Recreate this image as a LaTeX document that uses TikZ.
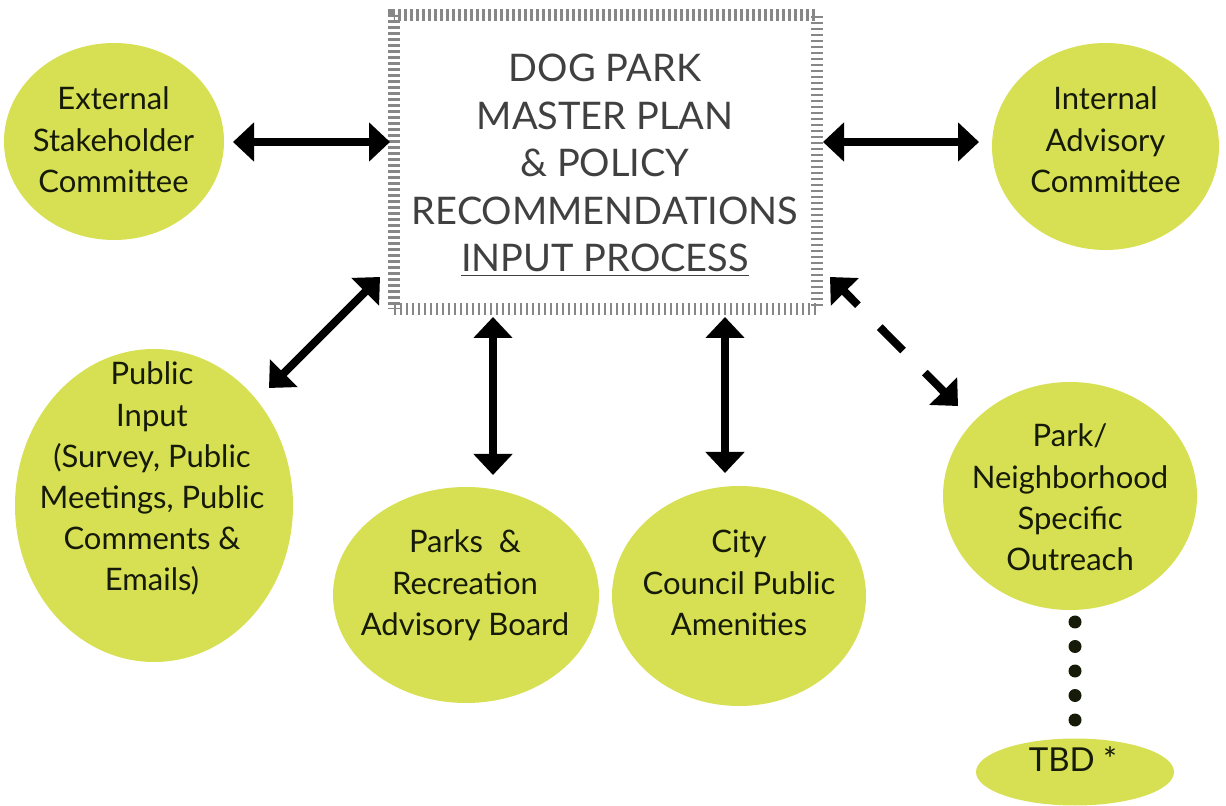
\documentclass[tikz,border=0pt]{standalone}
\usepackage{fontspec}
\setmainfont{Lato}
\usetikzlibrary{arrows.meta,calc,shapes.geometric}
\definecolor{leaf}{RGB}{214,224,82}
\definecolor{ink}{RGB}{22,26,8}
\definecolor{boxtext}{RGB}{64,64,64}
\definecolor{hatch}{RGB}{135,135,135}
\tikzset{
  ell/.style={ellipse, fill=leaf, draw=none, inner sep=0pt, outer sep=0pt},
  lbl/.style={anchor=base, inner sep=0pt, text=ink, font=\fontsize{15.5}{20.6}\selectfont},
  boxlbl/.style={anchor=base, inner sep=0pt, text=boxtext, font=\fontsize{19}{23.75}\selectfont},
  hatchbox/.style={rectangle, draw=hatch, line width=6pt, dash pattern=on 1.3pt off 1.7pt, outer sep=0pt, inner sep=0pt},
  link/.style={line width=4pt, black, {Triangle[length=10.5pt,width=19pt]}-{Triangle[length=10.5pt,width=19pt]}},
  dashlink/.style={link, dash pattern=on 16.5pt off 15.5pt, dash phase=6.5pt},
  dotline/.style={line width=6.5pt, line cap=round, dash pattern=on 0pt off 12.25pt, color=ink}
}
\begin{document}
\begin{tikzpicture}[x=0.5pt,y=-0.5pt]
\useasboundingbox (0,0) rectangle (1226,806);
% central box
\node[hatchbox, minimum width=211.75pt, minimum height=147pt] (box) at (605.25,162) {};
\node[boxlbl] (boxt) at (605,82) {\begin{tabular}[t]{@{}c@{}}DOG PARK\\MASTER PLAN\\\& POLICY\\RECOMMENDATIONS\\\underline{INPUT PROCESS}\end{tabular}};
% ellipses
\node[ell, minimum width=110pt, minimum height=98.5pt] (ext) at (114,141.5) {};
\node[ell, minimum width=113.5pt, minimum height=103.5pt] (int) at (1105.5,146.5) {};
\node[ell, minimum width=139pt, minimum height=156.5pt] (pub) at (154,505.5) {};
\node[ell, minimum width=133pt, minimum height=108pt] (parks) at (466,595) {};
\node[ell, minimum width=127pt, minimum height=110pt] (city) at (739,596) {};
\node[ell, minimum width=127pt, minimum height=114pt] (park) at (1070,496) {};
\node[ell, minimum width=99pt, minimum height=33.5pt] (tbd) at (1075,772) {};
% labels
\node[lbl] (extt) at (113.5,110) {\begin{tabular}[t]{@{}c@{}}External\\Stakeholder\\Committee\end{tabular}};
\node[lbl] (intt) at (1105.5,110) {\begin{tabular}[t]{@{}c@{}}Internal\\Advisory\\Committee\end{tabular}};
\node[lbl] (pubt) at (152,385) {\begin{tabular}[t]{@{}c@{}}Public\\Input\\(Survey, Public\\Meetings, Public\\Comments \&\\Emails)\end{tabular}};
\node[lbl] (parkst) at (465,553) {\begin{tabular}[t]{@{}c@{}}Parks\ \ \&\\Recreation\\Advisory Board\end{tabular}};
\node[lbl] (cityt) at (739,553) {\begin{tabular}[t]{@{}c@{}}City\\Council Public\\Amenities\end{tabular}};
\node[lbl] (parkt) at (1070,447) {\begin{tabular}[t]{@{}c@{}}Park/\\Neighborhood\\Specific\\Outreach\end{tabular}};
\node[lbl, font=\fontsize{16.5}{20.6}\selectfont] (tbdt) at (1073,771) {TBD *};
% connectors
\draw[link] ($(ext.east)+(9,0.5)$) -- ($(box.west)+(-3.5,-20)$);
\draw[link] ($(box.east)+(6,-20)$) -- ($(int.west)+(-13,-4.5)$);
\draw[link] ($(box.south west)+(-13.5,-32)$) -- ($(pub.center)+(115,-117.5)$);
\draw[link] ($(box.south west)+(99.5,8)$) -- ($(parks.north)+(27,-12)$);
\draw[link] ($(box.south west)+(331.5,8)$) -- ($(city.north)+(-14,-13)$);
\draw[dashlink] ($(box.south east)+(13,-32)$) -- ($(park.center)+(-112,-90)$);
\draw[dotline] ($(park.south)+(5,12)$) -- ($(tbd.north)+(0,-18.5)$);
\end{tikzpicture}
\end{document}
